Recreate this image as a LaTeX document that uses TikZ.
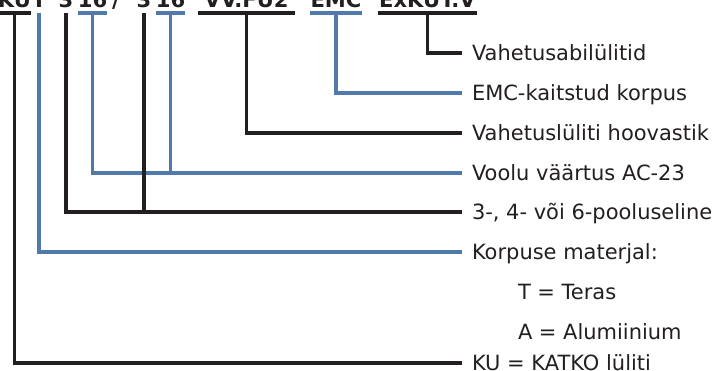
\documentclass[tikz,border=0pt]{standalone}
\usepackage{fontspec}
\setmainfont{DejaVu Sans}
\definecolor{azul}{RGB}{79,122,170}
\definecolor{negro}{RGB}{35,31,32}

\begin{document}
\begin{tikzpicture}[x=0.03cm,y=-0.03cm,
    linea/.style={line width=3pt,draw=negro},
    lineaazul/.style={line width=3pt,draw=azul},
    codigo/.style={font=\fontsize{18}{20}\selectfont\bfseries,text=negro,anchor=south,
      inner xsep=0pt,inner ysep=0.16cm,outer sep=0pt,text depth=0pt},
    texto/.style={font=\fontsize{17.9}{20}\selectfont,text=negro,anchor=west,
      inner xsep=0.3cm,inner ysep=0pt,outer sep=0pt,text height=0.44cm,text depth=0pt}]
    \useasboundingbox (0,0) rectangle (714,371);
    % Código
    \node[codigo,minimum width=0.87cm] (ku) at (14.5,13) {KU};
    \node[codigo] (t) at (39,13) {T};
    \node[codigo] (polos) at (66,13) {3};
    \node[codigo,minimum width=0.87cm] (corr) at (92.5,13) {16};
    \node[codigo] (barra) at (116,13) {/};
    \node[codigo] (polosb) at (144,13) {3};
    \node[codigo,minimum width=0.87cm] (corrb) at (170.5,13) {16};
    \node[codigo,minimum width=2.91cm] (vv) at (246.5,13) {VV.FU2};
    \node[codigo,minimum width=1.56cm] (emc) at (336,13) {EMC};
    \node[codigo,minimum width=2.97cm] (ex) at (427.5,13) {ExKUT.V};
    % Textos
    \node[texto] (abil) at (462,53) {Vahetusabilülitid};
    \node[texto] (emctxt) at (462,93) {EMC-kaitstud korpus};
    \node[texto] (hoov) at (462,133) {Vahetuslüliti hoovastik};
    \node[texto] (voolu) at (462,173) {Voolu väärtus AC-23};
    \node[texto] (pool) at (462,212) {3-, 4- või 6-pooluseline};
    \node[texto] (mat) at (462,252) {Korpuse materjal:};
    \node[texto] (teras) at (508,292) {T = Teras};
    \node[texto] (alum) at (508,332) {A = Alumiinium};
    \node[texto] (katko) at (462,363) {KU = KATKO lüliti};
    % Barras
    \draw[linea] (ku.south west) -- (ku.south east);
    \draw[lineaazul] (corr.south west) -- (corr.south east);
    \draw[lineaazul] (corrb.south west) -- (corrb.south east);
    \draw[linea] (vv.south west) -- (vv.south east);
    \draw[lineaazul] (emc.south west) -- (emc.south east);
    \draw[linea] (ex.south west) -- (ex.south east);
    % Líneas azules
    \draw[lineaazul] (t.south) |- (mat.west);
    \draw[lineaazul] (corr.south) |- (voolu.west);
    \draw[lineaazul] (corrb.south) -- (corrb.south |- voolu.west);
    \draw[lineaazul] (emc.south) |- (emctxt.west);
    % Líneas negras
    \draw[linea] (ku.south) |- (katko.west);
    \draw[linea] (polos.south) |- (pool.west);
    \draw[linea] (polosb.south) -- (polosb.south |- pool.west);
    \draw[linea] (vv.south) |- (hoov.west);
    \draw[linea] (ex.south) |- (abil.west);
  \end{tikzpicture}
\end{document}
